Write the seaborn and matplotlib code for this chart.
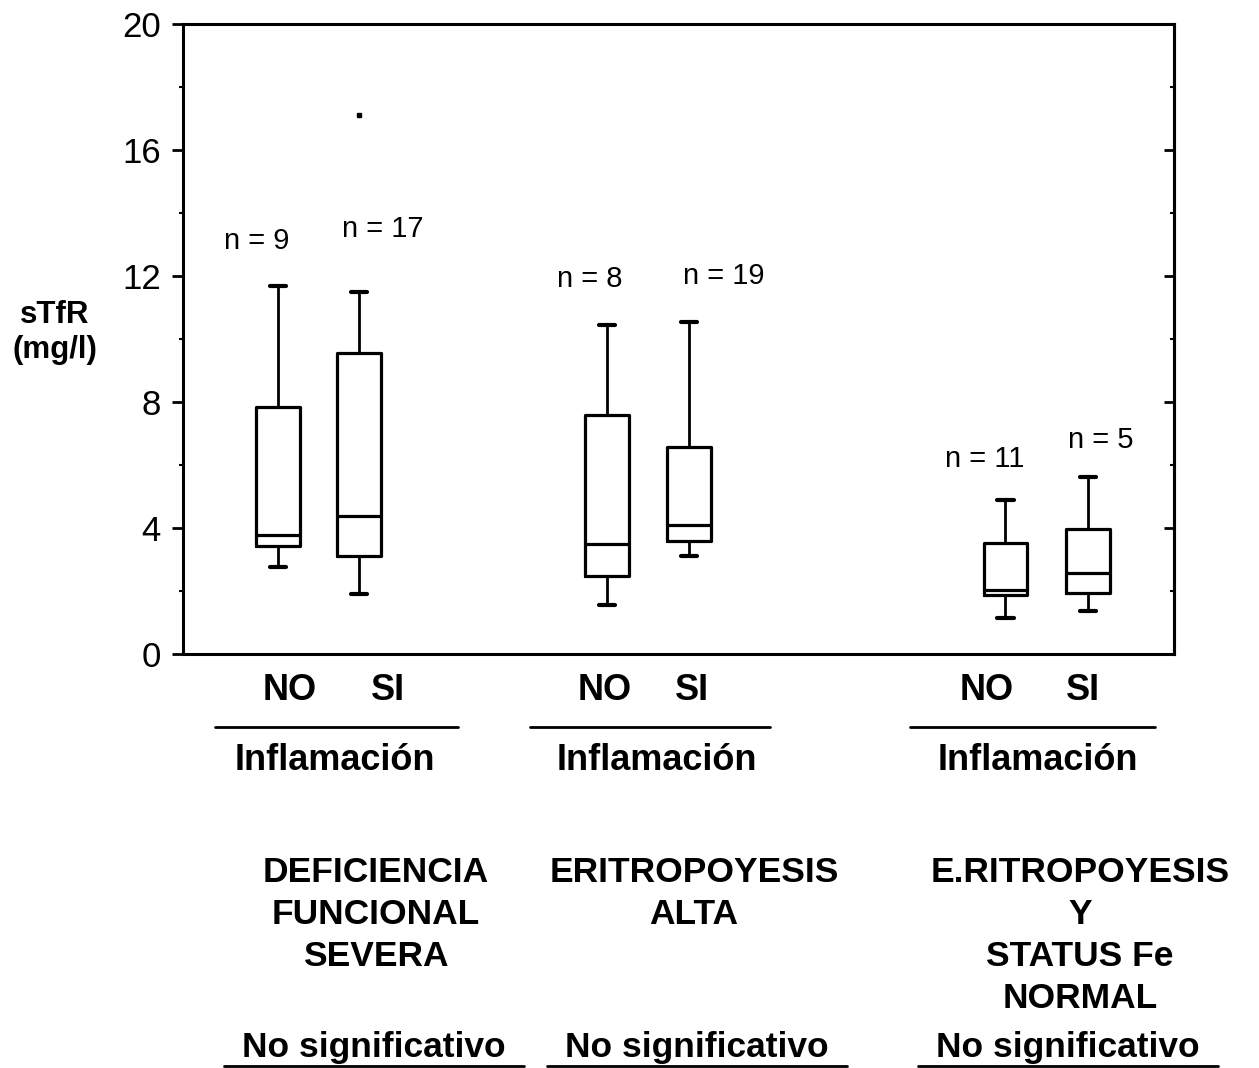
import numpy as np
import seaborn as sns
import matplotlib.pyplot as plt

sns.set_theme(style='ticks', rc={'text.color': 'black', 'axes.labelcolor': 'black',
                                 'xtick.color': 'black', 'ytick.color': 'black',
                                 'axes.edgecolor': 'black'})
plt.rcParams['font.family'] = ['Liberation Sans', 'DejaVu Sans']

# datos (sTfR, mg/l)
grupos = ['DEFICIENCIA\nFUNCIONAL\nSEVERA', 'ERITROPOYESIS\nALTA',
          'E.RITROPOYESIS\nY\nSTATUS Fe\nNORMAL']
inflamacion = ['NO', 'SI', 'NO', 'SI', 'NO', 'SI']
n_obs = [9, 17, 8, 19, 11, 5]
q1 = [3.42, 3.1, 2.48, 3.58, 1.87, 1.95]
mediana = [3.79, 4.39, 3.48, 4.11, 2.03, 2.57]
q3 = [7.85, 9.57, 7.58, 6.56, 3.52, 3.96]
bigote_inf = [2.76, 1.9, 1.57, 3.11, 1.13, 1.37]
bigote_sup = [11.69, 11.5, 10.44, 10.54, 4.89, 5.63]
atipicos = [[], [17.1], [], [], [], []]
significacion = ['No significativo'] * 3

W, H = 1259, 1068
posiciones = [1, 2, 5.06, 6.07, 9.98, 11.0]

fig = plt.figure(figsize=(W / 100, H / 100), dpi=100)
ax = fig.add_axes([183 / W, 1 - 654 / H, (1174 - 183) / W, (654 - 24) / H])

stats = []
for i in range(len(n_obs)):
    stats.append(dict(med=mediana[i], q1=q1[i], q3=q3[i],
                      whislo=bigote_inf[i], whishi=bigote_sup[i],
                      fliers=atipicos[i]))

ax.bxp(stats, positions=posiciones, widths=0.54, capwidths=0.2,
       boxprops=dict(color='black', lw=2.3),
       medianprops=dict(color='black', lw=2.3),
       whiskerprops=dict(color='black', lw=2.0),
       capprops=dict(color='black', lw=3.0),
       flierprops=dict(marker='s', markersize=3, markerfacecolor='black',
                       markeredgecolor='black'))

ax.set_xlim(-0.17, 12.06)
ax.set_ylim(0, 20)
ax.set_xticks([])
ax.set_yticks(np.arange(0, 21, 4))
ax.set_yticks(np.arange(2, 20, 4), minor=True)
ax.tick_params(axis='y', which='major', direction='out', length=8, width=2,
               labelsize=25, pad=8, left=True, right=False)
ax.tick_params(axis='y', which='minor', direction='out', length=3, width=1.5,
               left=True, right=False)
for s in ax.spines.values():
    s.set_linewidth(2.2)
    s.set_color('black')

# marcas interiores del eje derecho
der = ax.secondary_yaxis('right')
der.set_yticks(np.arange(4, 20, 4))
der.set_yticks(np.arange(2, 20, 4), minor=True)
der.tick_params(which='major', direction='in', length=7, width=2, labelright=False)
der.tick_params(which='minor', direction='in', length=3, width=1.5)
der.spines['right'].set_linewidth(2.2)

# n de cada caja
n_pos = [(0.74, 13.1), (2.29, 13.5), (4.85, 11.9), (6.5, 12.0), (9.72, 6.2), (11.16, 6.8)]
for (x, y), n in zip(n_pos, n_obs):
    ax.text(x, y, f'n = {n}', fontsize=21, ha='center', va='center')

ax.text(-0.17 - 128 / 81, 10.2, 'sTfR\n(mg/l)', fontsize=22.5, fontweight='bold',
        ha='center', va='center', linespacing=1.2)

def fx(x):
    return x / W

def fy(y):
    return 1 - y / H

# etiquetas NO / SI
lab_x = [290, 388, 605, 692, 987, 1083]
for x, t in zip(lab_x, inflamacion):
    fig.text(fx(x), fy(690), t, fontsize=26, fontweight='bold', ha='center', va='center')

linea_x = [(215, 458), (530, 770), (910, 1155)]
infl_x = [335, 657, 1038]
grupo_x = [376, 694, 1080]
sig_x = [374, 697, 1068]
for (a, b), xi, xg, xs, g, s in zip(linea_x, infl_x, grupo_x, sig_x, grupos, significacion):
    fig.add_artist(plt.Line2D([fx(a), fx(b)], [fy(727), fy(727)], color='black', lw=2))
    fig.text(fx(xi), fy(760), 'Inflamación', fontsize=26, fontweight='bold',
             ha='center', va='center')
    fig.text(fx(xg), fy(856), g, fontsize=25.5, fontweight='bold', ha='center',
             va='top', linespacing=1.35)
    fig.text(fx(xs), fy(1047), s, fontsize=25.5, fontweight='bold',
             ha='center', va='center')
    fig.add_artist(plt.Line2D([fx(xs - 150), fx(xs + 150)], [fy(1066), fy(1066)],
                              color='black', lw=2))

fig.savefig('out.png', dpi=100, facecolor='white')
